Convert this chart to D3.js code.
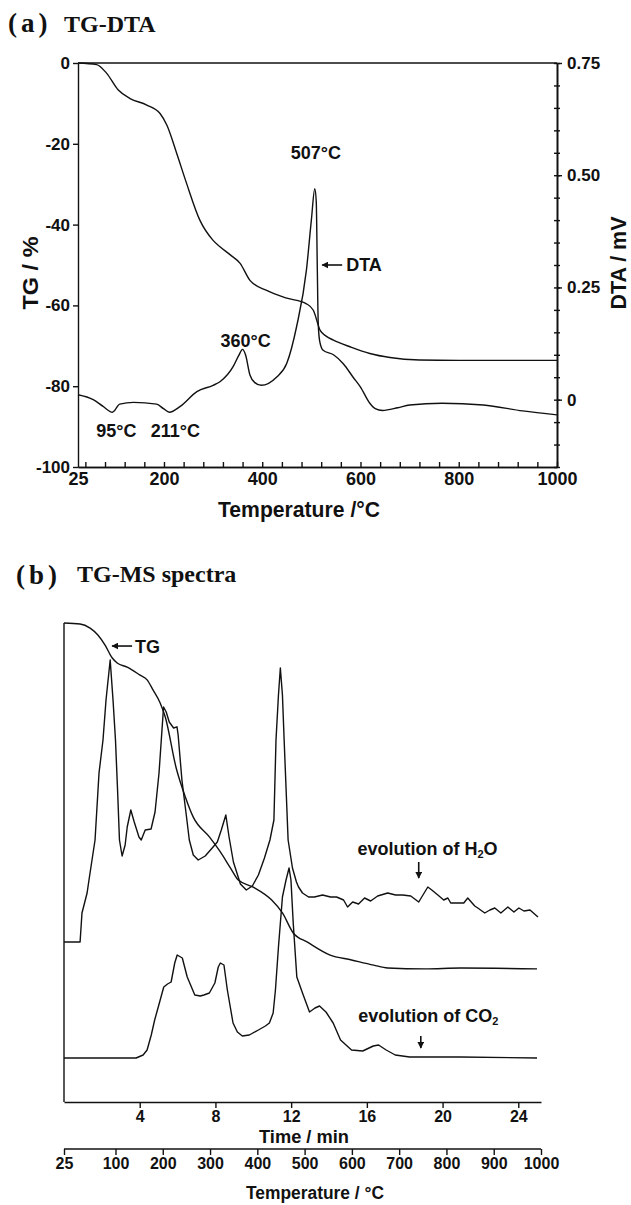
<!DOCTYPE html>
<html lang="en">
<head>
<meta charset="UTF-8">
<title>TG-DTA and TG-MS</title>
<script src="https://d3js.org/d3.v7.min.js"></script>
<style>
  body { margin: 0; background: #fff; }
  svg text { font-family: "Liberation Sans Narrow", "Liberation Sans", Arial, sans-serif; font-weight: bold; fill: #111; }
  svg text.serif { font-family: "Liberation Serif", "Times New Roman", serif; }
  .curve { fill: none; stroke: #111; stroke-width: 1.4; stroke-linejoin: round; }
  .axis path, .axis line { stroke: #111; stroke-width: 1.4; }
</style>
</head>
<body>
<svg width="631" height="1205"></svg>
<script>
// ---- (a) TG-DTA : temperature in degC ----
var tgTemp = [25, 63, 83, 107, 131, 165, 192, 206, 226, 246, 273, 300, 314, 335, 355, 375, 409, 450, 490, 504, 518, 530, 545, 580, 619, 660, 720, 800, 1000];
var tgMass = [0, -0.4, -2.5, -6.7, -8.8, -10.4, -12.5, -15.4, -22.4, -29.8, -38.9, -43.9, -45.5, -47.5, -49.6, -53.8, -56.3, -58.2, -59.6, -61.2, -66.2, -67.6, -68.6, -70.3, -71.9, -72.9, -73.5, -73.6, -73.6];

var dtaTemp = [25, 56, 76, 95, 110, 138, 185, 199, 211, 233, 267, 300, 314, 341, 352, 360, 366, 375, 385, 398, 429, 450, 470, 490, 500, 507, 510, 512, 514, 517, 524, 545, 565, 585, 600, 619, 630, 645, 676, 700, 766, 850, 930, 1000];
var dtaSignal = [0.011, 0.0, -0.015, -0.028, -0.01, -0.006, -0.01, -0.02, -0.028, -0.015, 0.018, 0.032, 0.04, 0.074, 0.098, 0.112, 0.1, 0.055, 0.038, 0.032, 0.05, 0.081, 0.163, 0.289, 0.40, 0.47, 0.44, 0.30, 0.17, 0.13, 0.11, 0.10, 0.08, 0.05, 0.028, -0.008, -0.02, -0.024, -0.018, -0.012, -0.008, -0.012, -0.025, -0.034];

var tempTicksA = [25, 200, 400, 600, 800, 1000];
var tgTicks = [0, -20, -40, -60, -80, -100];
var dtaTicks = [0, 0.25, 0.5, 0.75];

// ---- (b) TG-MS : time in min ----
var msTgTime = [0, 0.85, 1.38, 1.8, 2.17, 2.54, 2.81, 3.34, 4.02, 4.39, 4.71, 5.08, 5.35, 5.93, 6.41, 6.83, 7.68, 8.26, 8.79, 9.21, 10.0, 10.96, 11.54, 12.12, 12.86, 14.03, 15.19, 16.36, 17.1, 19.06, 20.96, 24.99];
var msTgMass = [0, -0.2, -1.1, -2.6, -4.7, -7.4, -8.5, -9.4, -11.1, -12.1, -14.3, -17.0, -20.0, -30.9, -37.0, -41.3, -45.5, -48.7, -52.1, -54.7, -56.2, -58.9, -61.7, -66.0, -67.9, -70.6, -71.7, -72.8, -73.4, -73.6, -73.4, -73.6];

var h2oTime = [0, 0.85, 0.95, 1.22, 1.32, 1.64, 1.85, 2.06, 2.22, 2.44, 2.59, 2.72, 2.83, 2.93, 3.07, 3.23, 3.34, 3.53, 3.71, 3.96, 4.08, 4.29, 4.6, 4.81, 5.02, 5.14, 5.26, 5.4, 5.56, 5.79, 5.97, 6.03, 6.23, 6.46, 6.62, 6.83, 7.09, 7.46, 7.83, 8.1, 8.31, 8.55, 8.72, 8.95, 9.32, 9.63, 9.95, 10.27, 10.59, 10.88, 11.09, 11.2, 11.33, 11.43, 11.54, 11.63, 11.84, 12.07, 12.28, 12.39, 12.6, 12.92, 13.23, 13.66, 14.08, 14.4, 14.77, 14.98, 15.25, 15.56, 15.88, 16.2, 16.57, 17.1, 17.52, 17.89, 18.32, 18.74, 19.22, 19.43, 19.75, 20.06, 20.28, 20.43, 20.8, 21.12, 21.33, 21.7, 21.86, 22.23, 22.5, 22.76, 23.08, 23.45, 23.77, 24.03, 24.3, 24.62, 25.04];
var h2oSignal = [40, 40, 47.25, 52.25, 55.5, 65.5, 82.25, 90.5, 100.5, 110.5, 100.5, 90.5, 78, 65.5, 61.5, 64.25, 68.75, 73, 70, 66.25, 65.5, 68, 68.25, 72.5, 82.25, 90.5, 98.75, 97.5, 95, 93.5, 93.8, 91.75, 80.5, 71.75, 65.5, 61.75, 60.5, 61.5, 63.5, 65, 68, 71.75, 66.25, 60, 54.5, 53, 54, 56.75, 61, 65.5, 70.5, 90.5, 101.75, 108.5, 101.75, 90.5, 65.5, 58.5, 55, 53.75, 52.25, 51.25, 51.25, 51.75, 51.25, 51.25, 50.5, 48.75, 50, 49.5, 51, 50.25, 51.5, 52.25, 51.75, 51.75, 51.5, 50, 53.75, 53, 51.75, 50.5, 51, 49.75, 49.75, 49.75, 51, 49, 48.5, 47.25, 48, 48.5, 47.25, 48.75, 47.5, 48.5, 47.75, 48, 46.25];

var co2Time = [0, 3.81, 4.18, 4.39, 4.61, 4.79, 4.98, 5.27, 5.47, 5.66, 5.85, 5.98, 6.25, 6.51, 6.91, 7.2, 7.39, 7.68, 7.97, 8.15, 8.26, 8.45, 8.63, 8.93, 9.16, 9.42, 9.79, 10.27, 10.64, 10.85, 11.05, 11.17, 11.33, 11.54, 11.73, 11.89, 11.99, 12.11, 12.3, 12.6, 12.97, 13.26, 13.5, 13.84, 14.22, 14.61, 15.19, 15.78, 16.34, 16.62, 17.02, 17.5, 18.26, 20.96, 24.99];
var co2Signal = [11, 11, 11.75, 13, 16.75, 20.5, 23.75, 28.75, 29.5, 30, 34.75, 36.75, 36, 31.25, 26.75, 26.5, 26.75, 27.25, 29.75, 33.75, 34.75, 34.25, 28, 19.75, 17.5, 16.5, 16.75, 18, 19, 19.75, 22.25, 28, 38.75, 51.25, 55.5, 58.5, 55.5, 44.75, 31.25, 27.25, 22.5, 23.5, 24, 22.5, 19.75, 15.5, 13, 12.75, 14, 14.25, 13, 11.75, 11.25, 11.25, 11];

var timeTicks = [4, 8, 12, 16, 20, 24];
var tempTicksB = [25, 100, 200, 300, 400, 500, 600, 700, 800, 900, 1000];
var tempAtTime = [25, 100, 1000];   // heating programme
var timeAtTemp = [0, 2.72, 25.2];

var svg = d3.select("svg");

svg.append("defs").append("marker")
    .attr("id", "arrow")
    .attr("viewBox", "0 0 10 10")
    .attr("refX", 9).attr("refY", 5)
    .attr("markerWidth", 7).attr("markerHeight", 7)
    .attr("markerUnits", "userSpaceOnUse")
    .attr("orient", "auto")
    .append("path").attr("d", "M0,0 L10,5 L0,10 Z").attr("fill", "#111");

function arrow(x1, y1, x2, y2) {
    svg.append("line")
        .attr("x1", x1).attr("y1", y1).attr("x2", x2).attr("y2", y2)
        .attr("stroke", "#111").attr("stroke-width", 1.6)
        .attr("marker-end", "url(#arrow)");
}

function label(x, y, txt, size, anchor) {
    return svg.append("text").attr("x", x).attr("y", y)
        .attr("text-anchor", anchor || "middle").style("font-size", size + "px").text(txt);
}

// ================= (a) =================
var xA = d3.scaleLinear().domain([25, 1000]).range([78, 557]);
var yTG = d3.scaleLinear().domain([-100, 0]).range([467, 63]);
var yDTA = d3.scaleLinear().domain([-0.15, 0.75]).range([467, 63]);

svg.append("text").attr("class", "serif").attr("x", 8).attr("y", 32)
    .style("font-size", "27px").style("letter-spacing", "4px").text("(a)");
svg.append("text").attr("class", "serif").attr("x", 64).attr("y", 32)
    .style("font-size", "24px").text("TG-DTA");

// frame top
svg.append("line").attr("x1", xA(25)).attr("x2", xA(1000)).attr("y1", yTG(0)).attr("y2", yTG(0))
    .attr("stroke", "#111").attr("stroke-width", 1.4);

var gxA = svg.append("g").attr("class", "axis").attr("transform", "translate(0,467)")
    .call(d3.axisBottom(xA).tickValues(tempTicksA).tickSize(0).tickPadding(5).tickFormat(d3.format("d")));
gxA.selectAll("text").style("font-size", "18px");
svg.append("g").attr("class", "axis").attr("transform", "translate(0,467)")
    .call(d3.axisTop(xA).tickValues(d3.range(40, 1001, 40)).tickSize(5).tickSizeOuter(0).tickFormat(""));

var gyA = svg.append("g").attr("class", "axis").attr("transform", "translate(78,0)")
    .call(d3.axisLeft(yTG).tickValues(tgTicks).tickSize(5).tickSizeOuter(0).tickPadding(3).tickFormat(function(d) { return String(d); }));
gyA.selectAll("text").style("font-size", "17px");

var gyR = svg.append("g").attr("class", "axis").attr("transform", "translate(557,0)")
    .call(d3.axisRight(yDTA).tickValues(dtaTicks).tickSize(5).tickSizeOuter(0).tickPadding(5)
        .tickFormat(function(d) { return d === 0 ? "0" : d.toFixed(2); }));
gyR.selectAll("text").style("font-size", "17px");
var dtaMinor = d3.range(-0.15, 0.751, 0.05);
svg.append("g").attr("class", "axis").attr("transform", "translate(557,0)")
    .call(d3.axisLeft(yDTA).tickValues(dtaMinor).tickSize(3).tickSizeOuter(0).tickFormat(""));
svg.append("g").attr("class", "axis").attr("transform", "translate(557,0)")
    .call(d3.axisRight(yDTA).tickValues(dtaMinor).tickSize(3).tickSizeOuter(0).tickFormat(""));

svg.append("text").attr("transform", "translate(30,273) rotate(-90)")
    .attr("text-anchor", "middle").attr("dy", "0.35em")
    .attr("textLength", 73).attr("lengthAdjust", "spacingAndGlyphs")
    .style("font-size", "22px").text("TG / %");
svg.append("text").attr("transform", "translate(618,263) rotate(-90)")
    .attr("text-anchor", "middle").attr("dy", "0.35em")
    .attr("textLength", 93).attr("lengthAdjust", "spacingAndGlyphs")
    .style("font-size", "22px").text("DTA / mV");
svg.append("text").attr("x", 299).attr("y", 517).attr("text-anchor", "middle")
    .attr("textLength", 162).attr("lengthAdjust", "spacingAndGlyphs")
    .style("font-size", "22px").text("Temperature /°C");

var lineTG = d3.line().x(function(d) { return xA(d[0]); }).y(function(d) { return yTG(d[1]); }).curve(d3.curveMonotoneX);
var lineDTA = d3.line().x(function(d) { return xA(d[0]); }).y(function(d) { return yDTA(d[1]); }).curve(d3.curveMonotoneX);

svg.append("path").attr("class", "curve").attr("d", lineTG(d3.zip(tgTemp, tgMass)));
svg.append("path").attr("class", "curve").attr("d", lineDTA(d3.zip(dtaTemp, dtaSignal)));

// peak labels
label(xA(507) + 1, yDTA(0.47) - 30, "507°C", 18);
label(xA(360) + 3, yDTA(0.112) - 2, "360°C", 18);
label(xA(95) + 4, yDTA(-0.028) + 25, "95°C", 18);
label(xA(211) + 6, yDTA(-0.028) + 25, "211°C", 18);
arrow(xA(522) + 20, yDTA(0.3), xA(522), yDTA(0.3));
label(xA(522) + 24, yDTA(0.3) + 6, "DTA", 18, "start");

// ================= (b) =================
var xT = d3.scaleLinear().domain([0, 25.2]).range([64, 541]);
var xTempB = d3.scaleLinear().domain(tempAtTime).range(timeAtTemp.map(xT));
var yMS = d3.scaleLinear().domain([0, 120]).range([1102, 622]);
var yTGb = d3.scaleLinear().domain([-100, 0]).range([1093, 623]);

svg.append("text").attr("class", "serif").attr("x", 16).attr("y", 584)
    .style("font-size", "27px").style("letter-spacing", "4px").text("(b)");
svg.append("text").attr("class", "serif").attr("x", 77).attr("y", 582)
    .style("font-size", "24px").text("TG-MS spectra");

svg.append("line").attr("x1", xT(0)).attr("x2", xT(0)).attr("y1", yTGb(0)).attr("y2", yMS(0))
    .attr("stroke", "#111").attr("stroke-width", 1.4);

var gTime = svg.append("g").attr("class", "axis").attr("transform", "translate(0,1102)")
    .call(d3.axisBottom(xT).tickValues(timeTicks).tickSize(6).tickSizeOuter(0).tickPadding(3));
gTime.selectAll("text").style("font-size", "16px");
svg.append("text").attr("x", 304).attr("y", 1143).attr("text-anchor", "middle")
    .attr("textLength", 90).attr("lengthAdjust", "spacingAndGlyphs")
    .style("font-size", "18px").text("Time / min");

var gTemp = svg.append("g").attr("class", "axis").attr("transform", "translate(0,1149)")
    .call(d3.axisBottom(xTempB).tickValues(tempTicksB).tickSize(6).tickSizeOuter(0).tickPadding(3).tickFormat(d3.format("d")));
gTemp.select(".domain").attr("d", "M" + xT(0) + ",0H" + xT(25.2));
gTemp.selectAll("text").style("font-size", "16px");
svg.append("text").attr("x", 315).attr("y", 1199).attr("text-anchor", "middle")
    .attr("textLength", 138).attr("lengthAdjust", "spacingAndGlyphs")
    .style("font-size", "18px").text("Temperature / °C");

var lineMS = d3.line().x(function(d) { return xT(d[0]); }).y(function(d) { return yMS(d[1]); });
var lineTGb = d3.line().x(function(d) { return xT(d[0]); }).y(function(d) { return yTGb(d[1]); }).curve(d3.curveMonotoneX);

svg.append("path").attr("class", "curve").attr("d", lineTGb(d3.zip(msTgTime, msTgMass)));
svg.append("path").attr("class", "curve").attr("d", lineMS(d3.zip(h2oTime, h2oSignal)));
svg.append("path").attr("class", "curve").attr("d", lineMS(d3.zip(co2Time, co2Signal)));

arrow(xT(2.54) + 20, yTGb(-4.9), xT(2.54), yTGb(-4.9));
label(xT(2.54) + 23, yTGb(-4.9) + 7, "TG", 18, "start");

var h2o = label(xT(15.5), yMS(61.75), "evolution of H", 18, "start");
h2o.append("tspan").attr("dy", 3).style("font-size", "11px").text("2");
h2o.append("tspan").attr("dy", -3).text("O");
arrow(xT(18.74), yMS(60), xT(18.74), yMS(56));

var co2 = label(xT(15.55), yMS(20), "evolution of CO", 18, "start");
co2.append("tspan").attr("dy", 3).style("font-size", "11px").text("2");
arrow(xT(18.85), yMS(16.5), xT(18.85), yMS(13.5));
</script>
</body>
</html>
